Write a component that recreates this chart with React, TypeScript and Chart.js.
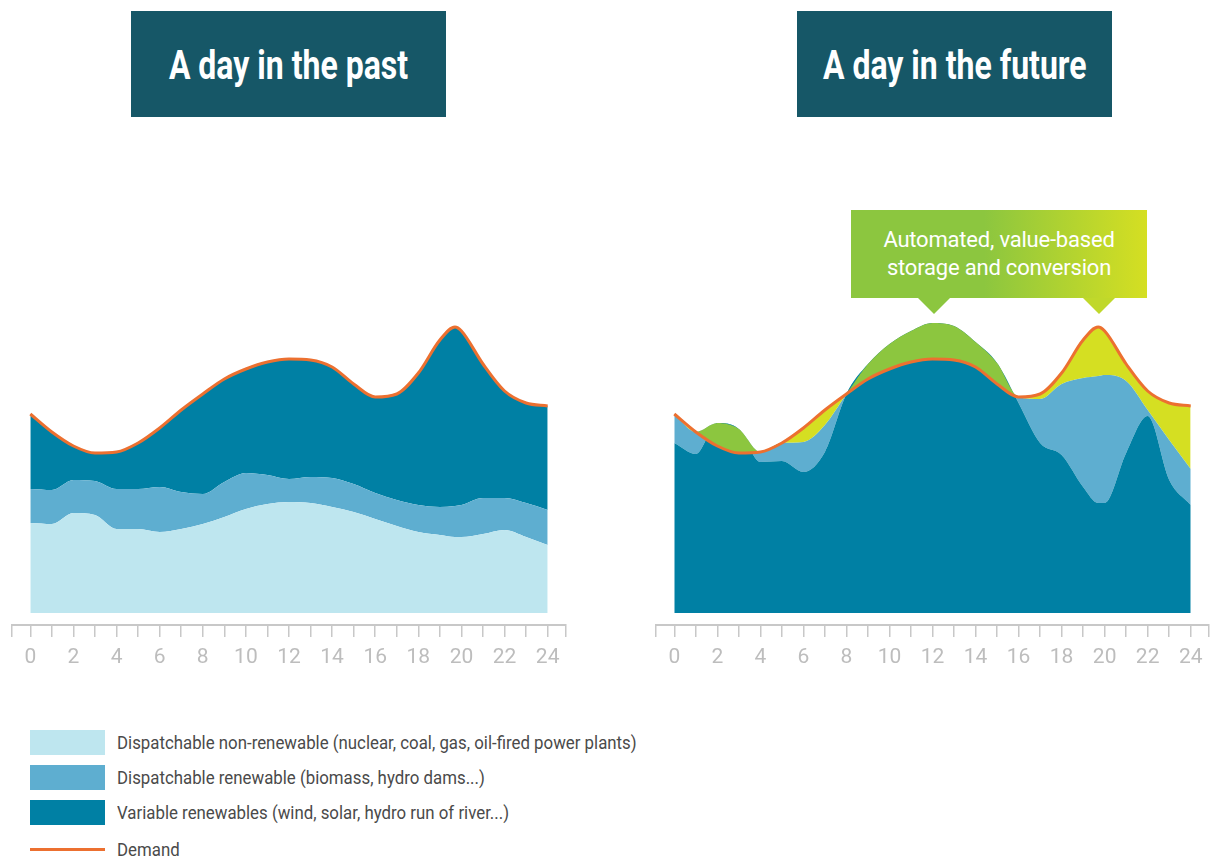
import React, { useEffect, useRef } from 'react';
import { Chart, registerables } from 'chart.js';

Chart.register(...registerables);

// ---------- data ----------
const HOURS = [0, 1, 2, 3, 4, 5, 6, 7, 8, 9, 10, 11, 12, 13, 14, 15, 16, 17, 18, 19, 19.7, 20, 21, 22, 23, 24];
const TICK_HOURS = [0, 1, 2, 3, 4, 5, 6, 7, 8, 9, 10, 11, 12, 13, 14, 15, 16, 17, 18, 19, 20, 21, 22, 23, 24];
const LABELED_HOURS = [0, 2, 4, 6, 8, 10, 12, 14, 16, 18, 20, 22, 24];

const DEMAND = [199, 181, 167, 160, 161, 170, 185, 203, 219, 234, 244, 251, 254, 253, 246, 229, 216, 219, 240, 273, 286, 282, 249, 222, 210, 207];

// A day in the past
const PAST_NON_RENEWABLE = [90, 89, 100, 98, 84, 84, 81, 84, 89, 96, 104, 109, 111, 110, 106, 101, 94, 87, 81, 78, 76, 76, 79, 83, 76, 68];
const PAST_DISPATCH_RENEWABLE = [34, 34, 33, 34, 40, 40, 45, 37, 30, 35, 36, 29, 23, 26, 29, 28, 26, 26, 27, 28, 31, 32, 36, 32, 34, 35];
const PAST_VARIABLE = [75, 58, 34, 28, 37, 46, 59, 82, 100, 103, 104, 113, 120, 117, 111, 100, 96, 106, 132, 167, 179, 174, 134, 107, 100, 104];

// A day in the future
const FUTURE_VARIABLE = [170, 159, 190, 184, 151, 152, 141, 161, 219, 249, 269, 282, 290, 287, 271, 250, 210, 170, 158, 126, 110, 110, 160, 197, 133, 108];
const FUTURE_DISPATCH_RENEWABLE = [29, 22, 0, 0, 10, 18, 30, 27, 0, 0, 0, 0, 0, 0, 0, 0, 6, 44, 71, 109, 127, 128, 72, 6, 40, 36];

const LEGEND_ITEMS = [
  'Dispatchable non-renewable (nuclear, coal, gas, oil-fired power plants)',
  'Dispatchable renewable (biomass, hydro dams...)',
  'Variable renewables (wind, solar, hydro run of river...)',
  'Demand',
];

// ---------- styles ----------
const FONT = 'Roboto, "Liberation Sans", sans-serif';
const C_LIGHT = '#bee6ef';
const C_MEDIUM = '#5eaed0';
const C_DARK = '#0080a4';
const C_ORANGE = '#ec7030';
const C_GREEN = '#8cc63f';
const C_YELLOW = '#d5df22';
const C_TITLE = '#165767';
const C_AXIS = '#c8c8c8';

const X_MIN = -0.85;
const X_MAX = 24.85;
const Y_MIN = -12;
const Y_MAX = 463;

const pts = (arr: number[]) => HOURS.map((h, i) => ({ x: h, y: arr[i] }));

function areaDs(label: string, arr: number[], color: string, fill: any) {
  return {
    label,
    data: pts(arr),
    backgroundColor: color,
    borderColor: 'rgba(0,0,0,0)',
    borderWidth: 0,
    pointRadius: 0,
    fill,
    stack: 'supply',
    cubicInterpolationMode: 'monotone' as const,
  };
}

function demandDs(fill: any) {
  return {
    label: 'Demand',
    data: pts(DEMAND),
    borderColor: C_ORANGE,
    backgroundColor: 'rgba(0,0,0,0)',
    borderWidth: 3,
    pointRadius: 0,
    fill,
    stack: 'demand',
    cubicInterpolationMode: 'monotone' as const,
  };
}

function makeOptions() {
  return {
    responsive: false,
    animation: false as const,
    layout: { autoPadding: false, padding: 0 },
    plugins: { legend: { display: false }, tooltip: { enabled: false } },
    scales: {
      x: {
        type: 'linear' as const,
        min: X_MIN,
        max: X_MAX,
        afterBuildTicks: (scale: any) => {
          scale.ticks = [X_MIN, ...TICK_HOURS, X_MAX].map((v) => ({ value: v }));
        },
        afterFit: (scale: any) => {
          scale.height = 47;
        },
        ticks: {
          autoSkip: false,
          maxRotation: 0,
          padding: 8,
          color: '#bdbdbd',
          font: { family: FONT, size: 21 },
          callback: (v: any) => (LABELED_HOURS.includes(v) ? String(v) : ''),
        },
        grid: {
          display: true,
          drawOnChartArea: false,
          drawTicks: true,
          tickLength: 12,
          color: C_AXIS,
          lineWidth: 1.5,
        },
        border: { display: true, color: C_AXIS, width: 2 },
      },
      y: {
        display: false,
        stacked: true,
        min: Y_MIN,
        max: Y_MAX,
      },
    },
  };
}

function PanelChart({ kind, left, width }: { kind: 'past' | 'future'; left: number; width: number }) {
  const ref = useRef<HTMLCanvasElement | null>(null);
  useEffect(() => {
    if (!ref.current) return;
    const datasets =
      kind === 'past'
        ? [
            demandDs(false),
            areaDs(LEGEND_ITEMS[0], PAST_NON_RENEWABLE, C_LIGHT, 'origin'),
            areaDs(LEGEND_ITEMS[1], PAST_DISPATCH_RENEWABLE, C_MEDIUM, '-1'),
            areaDs(LEGEND_ITEMS[2], PAST_VARIABLE, C_DARK, '-1'),
          ]
        : [
            demandDs({ target: 2, above: C_YELLOW, below: C_GREEN }),
            areaDs(LEGEND_ITEMS[2], FUTURE_VARIABLE, C_DARK, 'origin'),
            areaDs(LEGEND_ITEMS[1], FUTURE_DISPATCH_RENEWABLE, C_MEDIUM, '-1'),
          ];
    const chart = new Chart(ref.current, {
      type: 'line',
      data: { datasets: datasets as any },
      options: makeOptions() as any,
    });
    return () => chart.destroy();
  }, [kind]);
  return (
    <canvas
      ref={ref}
      width={width}
      height={522}
      style={{ position: 'absolute', left, top: 150, width, height: 522 }}
    />
  );
}

function TitleBox({ left, text }: { left: number; text: string }) {
  return (
    <div
      style={{
        position: 'absolute',
        left,
        top: 11,
        width: 315,
        height: 106,
        background: C_TITLE,
        display: 'flex',
        alignItems: 'center',
        justifyContent: 'center',
      }}
    >
      <span
        style={{
          display: 'inline-block',
          color: '#fff',
          fontFamily: FONT,
          fontWeight: 'bold',
          fontSize: 40,
          whiteSpace: 'nowrap',
          transform: 'scaleX(0.8)',
          marginTop: 2,
        }}
      >
        {text}
      </span>
    </div>
  );
}

function Callout() {
  return (
    <>
      <div
        style={{
          position: 'absolute',
          left: 851,
          top: 210,
          width: 296,
          height: 88,
          background: `linear-gradient(90deg, ${C_GREEN} 0%, ${C_GREEN} 45%, ${C_YELLOW} 100%)`,
          color: '#fff',
          fontFamily: FONT,
          fontSize: 22,
          lineHeight: '28px',
          letterSpacing: -0.2,
          textAlign: 'center',
          paddingTop: 16,
          boxSizing: 'border-box',
          whiteSpace: 'nowrap',
        }}
      >
        Automated, value-based
        <br />
        storage and conversion
      </div>
      <div
        style={{
          position: 'absolute',
          left: 918,
          top: 298,
          width: 0,
          height: 0,
          borderLeft: '16px solid transparent',
          borderRight: '16px solid transparent',
          borderTop: `16px solid ${C_GREEN}`,
        }}
      />
      <div
        style={{
          position: 'absolute',
          left: 1083,
          top: 298,
          width: 0,
          height: 0,
          borderLeft: '16px solid transparent',
          borderRight: '16px solid transparent',
          borderTop: '16px solid #c0d82b',
        }}
      />
    </>
  );
}

const legendText: React.CSSProperties = {
  position: 'absolute',
  left: 117,
  height: 25,
  lineHeight: '25px',
  fontFamily: FONT,
  fontSize: 18,
  color: '#4a4a4a',
  whiteSpace: 'nowrap',
  transform: 'scaleX(0.935)',
  transformOrigin: 'left center',
};

function Legend() {
  const colors = [C_LIGHT, C_MEDIUM, C_DARK];
  const tops = [730, 765, 800];
  return (
    <>
      {colors.map((c, i) => (
        <div key={i}>
          <div style={{ position: 'absolute', left: 30, top: tops[i], width: 75, height: 25, background: c }} />
          <div style={{ ...legendText, top: tops[i] }}>{LEGEND_ITEMS[i]}</div>
        </div>
      ))}
      <div style={{ position: 'absolute', left: 30, top: 848, width: 75, height: 3, background: C_ORANGE }} />
      <div style={{ ...legendText, top: 837 }}>{LEGEND_ITEMS[3]}</div>
    </>
  );
}

export default function App() {
  return (
    <div style={{ position: 'absolute', left: 0, top: 0, width: 1210, height: 858, background: '#fff', overflow: 'hidden' }}>
      <TitleBox left={131} text="A day in the past" />
      <TitleBox left={797} text="A day in the future" />
      <Callout />
      <PanelChart kind="past" left={4} width={570} />
      <PanelChart kind="future" left={648} width={569} />
      <Legend />
    </div>
  );
}
